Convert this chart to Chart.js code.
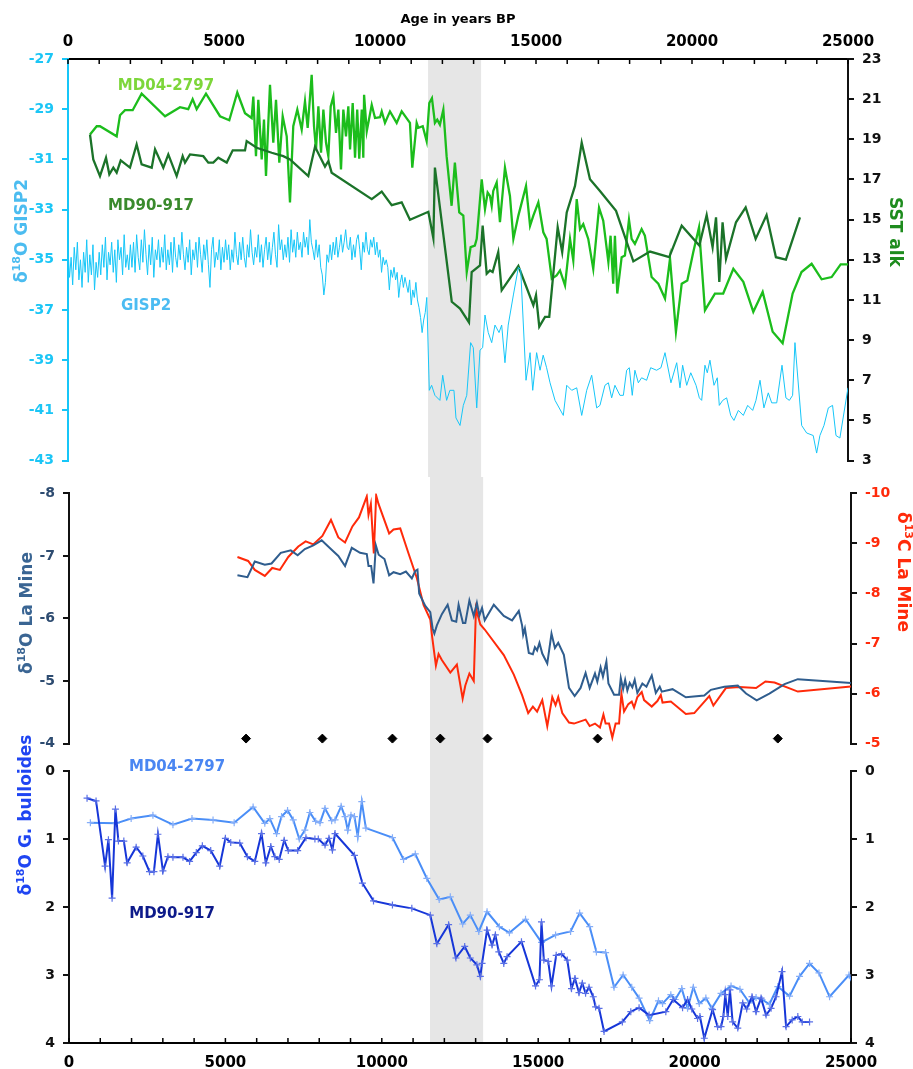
<!DOCTYPE html>
<html>
<head>
<meta charset="utf-8">
<script src="https://cdn.jsdelivr.net/npm/chart.js@4.4.0/dist/chart.umd.min.js"></script>
<style>
  html, body { margin: 0; padding: 0; background: #fff; }
  #wrap { position: relative; width: 913px; height: 1069px; }
  canvas { position: absolute; left: 0; }
  #c1 { top: 0; z-index: 1; }
  #c3 { top: 700px; z-index: 2; }
  #c2 { top: 477px; z-index: 3; }
</style>
</head>
<body>
<div id="wrap">
  <canvas id="c1" width="913" height="477"></canvas>
  <canvas id="c2" width="913" height="283"></canvas>
  <canvas id="c3" width="913" height="369"></canvas>
</div>
<script>
// ---- axis ticks ----
const ageTicks = [0, 5000, 10000, 15000, 20000, 25000];
const ageMinor = [0, 1000, 2000, 3000, 4000, 5000, 6000, 7000, 8000, 9000, 10000, 11000, 12000,
  13000, 14000, 15000, 16000, 17000, 18000, 19000, 20000, 21000, 22000, 23000, 24000, 25000];
const gisp2Ticks = [-43, -41, -39, -37, -35, -33, -31, -29, -27];
const sstTicks = [3, 5, 7, 9, 11, 13, 15, 17, 19, 21, 23];
const o18MineTicks = [-8, -7, -6, -5, -4];
const c13MineTicks = [-10, -9, -8, -7, -6, -5];
const bullTicks = [0, 1, 2, 3, 4];
const shadedAge = [11540, 13240];

// ---- GISP2 d18O ----
const gisp2Age = [0, 50, 100, 150, 200, 250, 300, 350, 400, 450, 500, 550, 600, 650, 700, 750, 800,
  850, 900, 950, 1000, 1050, 1100, 1150, 1200, 1250, 1300, 1350, 1400, 1450, 1500, 1550, 1600, 1650,
  1700, 1750, 1800, 1850, 1900, 1950, 2000, 2050, 2100, 2150, 2200, 2250, 2300, 2350, 2400, 2450,
  2500, 2550, 2600, 2650, 2700, 2750, 2800, 2850, 2900, 2950, 3000, 3050, 3100, 3150, 3200, 3250,
  3300, 3350, 3400, 3450, 3500, 3550, 3600, 3650, 3700, 3750, 3800, 3850, 3900, 3950, 4000, 4050,
  4100, 4150, 4200, 4250, 4300, 4350, 4400, 4450, 4500, 4550, 4600, 4650, 4700, 4750, 4800, 4850,
  4900, 4950, 5000, 5050, 5100, 5150, 5200, 5250, 5300, 5350, 5400, 5450, 5500, 5550, 5600, 5650,
  5700, 5750, 5800, 5850, 5900, 5950, 6000, 6050, 6100, 6150, 6200, 6250, 6300, 6350, 6400, 6450,
  6500, 6550, 6600, 6650, 6700, 6750, 6800, 6850, 6900, 6950, 7000, 7050, 7100, 7150, 7200, 7250,
  7300, 7350, 7400, 7450, 7500, 7550, 7600, 7650, 7700, 7750, 7800, 7850, 7900, 7950, 8000, 8050,
  8100, 8150, 8200, 8250, 8300, 8350, 8400, 8450, 8500, 8550, 8600, 8650, 8700, 8750, 8800, 8850,
  8900, 8950, 9000, 9050, 9100, 9150, 9200, 9250, 9300, 9350, 9400, 9450, 9500, 9550, 9600, 9650,
  9700, 9750, 9800, 9850, 9900, 9950, 10000, 10050, 10100, 10150, 10200, 10250, 10300, 10350, 10400,
  10450, 10500, 10550, 10600, 10650, 10700, 10750, 10800, 10850, 10900, 10950, 11000, 11050, 11100,
  11150, 11200, 11250, 11300, 11350, 11400, 11450, 11500,
  11580, 11655, 11760, 11920, 12010, 12135,
  12240, 12370, 12435, 12565, 12670, 12780, 12905, 12990, 13100, 13205, 13290, 13365, 13470, 13580,
  13685, 13815, 13900, 14005, 14110, 14275, 14435, 14510, 14680, 14810, 14895, 15020, 15130, 15230,
  15340, 15450, 15610, 15875, 15985, 16145, 16305, 16465, 16625, 16785, 16945, 17050, 17210, 17320,
  17425, 17530, 17690, 17800, 17905, 17990, 18085, 18170, 18280, 18385, 18545, 18675, 18865, 19005,
  19135, 19325, 19510, 19615, 19700, 19830, 19960, 20130, 20235, 20310, 20415, 20490, 20575, 20705,
  20810, 20875, 20985, 21110, 21240, 21345, 21485, 21645, 21785, 21945, 22050, 22180, 22305, 22445,
  22555, 22715, 22885, 23010, 23120, 23225, 23300, 23515, 23675, 23885, 23995, 24100, 24230, 24370,
  24505, 24615, 24740, 25000];
const gisp2D18O = [
  -34.6, -35.7, -34.9, -36.0, -34.5, -35.4, -34.3, -35.8, -35.0, -36.1, -34.7, -35.5, -34.2, -35.9,
  -34.8, -35.6, -34.4, -36.2, -35.1, -35.7, -34.7,
  -35.6, -34.4, -35.3, -34.1, -35.8, -34.7, -35.2, -34.3, -35.5, -34.6, -35.9, -34.2, -35.0, -34.5,
  -35.6, -34.0, -35.3, -34.8, -35.4, -34.4,
  -35.3, -34.3, -35.5, -34.0, -34.9, -35.4, -34.2, -35.1, -33.8, -34.8, -35.6, -34.4, -35.2, -34.1,
  -35.7, -34.6, -35.0, -34.2, -35.3, -34.5,
  -35.1, -34.0, -35.4, -34.6, -35.2, -34.3, -35.5, -34.1, -34.9, -35.3, -34.4, -35.0, -33.9, -34.8,
  -35.4, -34.5, -35.1, -34.2, -35.6, -34.6,
  -35.0, -34.3, -35.3, -34.1, -34.8, -35.5, -34.4, -35.0, -34.2, -35.2, -36.1, -34.6, -34.1, -35.3,
  -34.7, -35.0, -34.2, -35.4, -34.5, -35.1,
  -34.2, -35.0, -34.4, -35.4, -34.6, -35.1, -33.9, -34.8, -35.2, -34.3, -35.0, -34.1, -34.9, -35.3,
  -34.4, -34.9, -33.8, -34.7, -35.2, -34.5,
  -34.9, -34.0, -35.1, -34.4, -35.3, -34.6, -34.1, -35.0, -34.3, -35.2, -34.5, -33.9, -34.8, -35.3,
  -33.6, -34.6, -34.2, -35.0, -34.4, -34.9,
  -34.1, -35.1, -33.8, -34.7, -34.2, -34.9, -33.9, -34.6, -34.3, -34.9, -33.9, -34.5, -34.1, -34.8,
  -33.4, -34.3, -34.6, -35.0, -34.2, -34.9,
  -34.4, -35.3, -35.6, -36.4, -35.9, -34.8, -35.1, -34.4, -35.0, -34.3, -34.8, -34.1, -34.9, -34.5,
  -34.0, -34.7, -34.3, -33.8, -34.5, -34.6,
  -34.1, -35.0, -34.4, -34.9, -34.2, -34.0, -34.6, -35.4, -34.3, -34.7, -33.9, -34.6, -34.8, -34.2,
  -34.5, -34.1, -34.8, -34.3, -34.9, -34.6,
  -35.5, -34.9, -35.2, -35.0, -35.3, -36.2, -35.4, -35.7, -35.3, -35.8, -35.5, -36.5, -35.9, -35.6,
  -36.1, -35.7, -36.0, -36.3, -35.8, -36.8,
  -36.2, -36.5, -35.9, -36.6, -36.9, -37.3, -37.9, -37.4, -37.1, -36.5,
  -40.2, -40.0, -40.4, -40.6, -39.6, -40.6,
  -40.2, -40.2, -41.3, -41.6, -40.8, -40.4, -38.3, -38.5, -40.9, -38.6, -38.5,
  -37.2, -37.9, -38.3, -37.6, -37.9, -37.6, -39.1, -37.6, -36.4, -35.3, -35.4, -39.8, -38.7, -40.2,
  -38.7, -39.4, -38.8, -39.3, -39.9, -40.6, -41.2, -40.0, -40.2, -40.1, -41.2, -40.2, -39.6, -40.9,
  -40.8, -40.0, -39.9, -40.5, -40.0, -40.4, -40.4, -39.4, -39.3, -40.4, -39.4, -39.9, -39.7, -39.8,
  -39.3, -39.4, -39.3, -38.7, -39.9, -39.1, -40.1, -39.2, -40.0, -39.5, -40.0, -40.5, -40.6, -39.2,
  -39.5, -39.0, -40.0, -39.7, -40.8, -40.6, -40.5, -41.2, -41.4, -41.0, -41.2, -40.8, -41.0, -40.6,
  -39.8, -40.9, -40.3, -40.7, -40.7, -39.2, -40.5, -40.6, -40.4, -38.3, -41.6, -41.9, -42.0, -42.7,
  -42.0, -41.6, -40.9, -40.8, -42.0, -42.1, -40.1];

// ---- SST alkenones MD04-2797 ----
const md04SstAge = [705, 920, 1025, 1560, 1667, 1827, 2073, 2360, 3110, 3590, 3855, 3995, 4124, 4423,
  4872, 5170, 5426, 5673, 5886, 5940, 6025, 6100, 6208, 6282, 6346, 6474, 6580, 6667, 6773, 6881,
  7010, 7115, 7220, 7350, 7490, 7596, 7682, 7810, 7885, 7950, 8025, 8110, 8185, 8270, 8345, 8420,
  8505, 8590, 8665, 8750, 8825, 8910, 8985, 9040, 9125, 9200, 9270, 9335, 9415, 9465, 9490, 9575,
  9735, 9840, 10000, 10055, 10160, 10320, 10535, 10695, 10960, 11035, 11175, 11230, 11370, 11495,
  11580, 11665, 11760, 11835, 11920, 12030, 12135, 12295, 12400, 12540, 12670, 12780, 12905, 13040,
  13100, 13260, 13365, 13450, 13525, 13580, 13630, 13740, 13845, 14005, 14165, 14275, 14435, 14680,
  14810, 14915, 15075, 15235, 15340, 15395, 15505, 15660, 15770, 15930, 16090, 16195, 16305, 16410,
  16515, 16675, 16835, 17020, 17155, 17320, 17390, 17475, 17530, 17605, 17745, 17850, 17980, 18065,
  18170, 18385, 18490, 18705, 18920, 19135, 19295, 19485, 19670, 19850, 20040, 20225, 20280, 20415,
  20735, 21000, 21325, 21645, 21965, 22265, 22585, 22905, 23225, 23510, 23835, 24155, 24475, 24765, 25000];
const md04Sst = [19.24, 19.65, 19.65, 19.15, 20.2, 20.45, 20.45, 21.27, 20.15, 20.6, 20.5, 21.0, 20.5,
  21.27, 20.15, 19.95, 21.33, 20.3, 20.06, 21.13, 18.16, 20.97, 18.0, 19.98, 17.17, 21.71, 18.83,
  20.97, 17.84, 20.15, 19.15, 15.86, 19.65, 20.48, 19.49, 20.89, 19.57, 22.21, 19.65, 18.5, 20.64,
  18.33, 20.48, 18.83, 18.16, 20.64, 21.13, 19.32, 20.48, 17.5, 20.48, 19.15, 20.64, 18.5, 20.81,
  18.08, 20.48, 18.03, 20.48, 18.08, 21.22, 19.4, 20.72, 20.06, 20.1, 20.39, 19.82, 20.39, 19.82,
  20.39, 19.82, 17.59, 19.82, 19.57, 19.65, 18.91, 20.81, 21.05, 19.82, 19.98, 19.73, 20.48, 18.16,
  15.69, 17.84, 15.36, 15.2, 12.39, 13.63, 13.71, 14.04, 17.01, 15.52, 16.35, 16.18, 15.69, 16.43,
  16.85, 14.87, 17.59, 16.18, 14.04, 15.2, 16.68, 14.7, 15.2, 15.86, 14.37, 14.04, 13.38, 12.06,
  12.22, 12.47, 11.73, 14.04, 12.97, 16.02, 14.53, 14.78, 14.04, 12.55, 15.6, 14.95, 12.89, 14.2,
  11.81, 14.2, 11.32, 13.13, 13.21, 15.0, 14.04, 13.79, 14.53, 14.2, 12.14, 11.81, 11.07, 13.05,
  9.42, 11.81, 11.97, 13.38, 14.62, 13.38, 10.49, 11.32, 11.32, 12.55, 11.9, 10.41, 11.4, 9.42,
  8.84, 11.32, 12.39, 12.8, 12.03, 12.14, 12.77, 12.77];

// ---- SST alkenones MD90-917 ----
const md90SstAge = [705, 810, 1025, 1218, 1325, 1453, 1560, 1690, 1987, 2200, 2360, 2683, 2790, 3055,
  3215, 3483, 3675, 3750, 3910, 4337, 4497, 4657, 4817, 5087, 5280, 5673, 5727, 6048, 6529, 6900,
  7115, 7702, 7917, 8237, 8345, 8450, 9735, 10055, 10375, 10695, 10960, 11550, 11710, 11760, 12300,
  12565, 12852, 12938, 13205, 13290, 13420, 13525, 13610, 13790, 13900, 14435, 14915, 15000, 15105,
  15290, 15425, 15695, 15840, 15985, 16250, 16465, 16730, 17050, 17565, 18120, 18655, 19270, 19670,
  20235, 20470, 20660, 20770, 20875, 20980, 21090, 21410, 21720, 22040, 22390, 22690, 23010, 23460];
const md90Sst = [19.24, 18.0, 17.17, 18.08, 17.26, 17.59, 17.34, 17.95, 17.59, 18.74, 17.75, 17.59,
  18.5, 17.59, 18.25, 17.17, 18.16, 17.84, 18.25, 18.16, 17.84, 17.84, 18.08, 17.84, 18.45, 18.45,
  18.91, 18.58, 18.33, 18.16, 18.0, 17.17, 18.63, 17.64, 17.92, 17.34, 16.02, 16.4, 15.72, 15.86,
  14.99, 15.39, 14.07, 17.59, 10.91, 10.57, 9.88, 12.39, 12.72, 14.7, 12.31, 12.47, 12.39, 13.38,
  11.48, 12.69, 10.74, 11.24, 9.67, 10.16, 10.16, 14.62, 13.38, 15.36, 16.68, 18.83, 17.01, 16.43,
  15.44, 12.92, 13.41, 13.13, 14.7, 13.71, 15.23, 13.63, 15.11, 11.9, 14.87, 13.05, 14.87, 15.61,
  14.04, 15.23, 13.13, 13.01, 15.11];

// ---- La Mine speleothem d18O ----
const laMineO18Age = [5385, 5705, 5940, 6260, 6475, 6770, 7090, 7310, 7540, 7810, 8077, 8397, 8610,
  8825, 9040, 9305, 9520, 9575, 9660, 9735, 9810, 9900, 10085, 10235, 10375, 10590, 10770, 10960,
  11070, 11140, 11195, 11390, 11550, 11625, 11680, 11760, 11920, 12105, 12240, 12380, 12455, 12540,
  12595, 12670, 12800, 12940, 13040, 13120, 13205, 13290, 13580, 13900, 14165, 14380, 14485, 14520,
  14575, 14700, 14830, 14895, 14965, 15040, 15130, 15290, 15425, 15535, 15640, 15820, 15985, 16165,
  16355, 16515, 16645, 16815, 16890, 16995, 17070, 17180, 17245, 17425, 17585, 17640, 17715, 17780,
  17850, 17925, 18010, 18085, 18170, 18330, 18460, 18630, 18760, 18885, 18950, 19295, 19720, 20310,
  20520, 20950, 21380, 21645, 21985, 22390, 22875, 23300, 24100, 25000];
const laMineO18 = [-6.69, -6.66, -6.91, -6.86, -6.88, -7.05, -7.09, -7.01, -7.11, -7.17, -7.25, -7.1,
  -7.0, -6.84, -7.13, -7.05, -7.03, -6.84, -6.84, -6.56, -7.17, -7.02, -6.95, -6.69, -6.74, -6.71,
  -6.75, -6.64, -6.76, -6.78, -6.4, -6.2, -6.1, -5.84, -5.76, -5.89, -6.07, -6.22, -5.97, -5.95,
  -6.22, -6.04, -5.93, -5.93, -6.29, -6.04, -6.25, -6.05, -6.17, -5.97, -6.22, -6.04, -5.97, -6.12,
  -5.89, -5.74, -5.84, -5.45, -5.43, -5.54, -5.49, -5.61, -5.44, -5.28, -5.76, -5.53, -5.61, -5.42,
  -4.89, -4.76, -4.89, -5.13, -4.89, -5.12, -4.99, -5.22, -5.07, -5.31, -4.96, -4.78, -4.78, -5.05,
  -4.87, -5.02, -4.85, -4.97, -4.9, -5.02, -4.81, -4.96, -4.91, -5.09, -4.81, -4.91, -4.83, -4.87,
  -4.74, -4.77, -4.86, -4.91, -4.93, -4.8, -4.69, -4.8, -4.95, -5.03, -5.0, -4.97];

// ---- La Mine speleothem d13C ----
const laMineC13Age = [5385, 5727, 5940, 6260, 6497, 6740, 7010, 7330, 7565, 7810, 8100, 8375, 8610,
  8825, 9060, 9270, 9520, 9575, 9650, 9745, 9820, 9895, 10235, 10375, 10590, 10855, 11120, 11335,
  11550, 11605, 11730, 11815, 11920, 12190, 12400, 12585, 12670, 12800, 12940, 13010, 13150, 13290,
  13900, 14220, 14485, 14680, 14830, 14965, 15130, 15290, 15450, 15555, 15640, 15770, 15985, 16145,
  16515, 16645, 16815, 16975, 17085, 17155, 17265, 17370, 17475, 17585, 17660, 17745, 17880, 17990,
  18065, 18170, 18310, 18385, 18630, 18810, 18920, 18975, 19240, 19720, 19990, 20470, 20600, 21000,
  21430, 21965, 22265, 22555, 23300, 25000];
const laMineC13 = [-8.73, -8.65, -8.47, -8.35, -8.51, -8.47, -8.73, -8.94, -9.04, -8.98, -9.15, -9.47,
  -9.12, -9.02, -9.34, -9.52, -9.94, -9.57, -9.79, -8.8, -9.96, -9.79, -9.2, -9.28, -9.3, -8.8,
  -8.31, -7.77, -7.48, -7.16, -6.56, -6.79, -6.67, -6.42, -6.58, -5.9, -6.16, -6.4, -6.25, -7.7,
  -7.38, -7.28, -6.77, -6.38, -5.97, -5.61, -5.74, -5.64, -5.87, -5.35, -5.93, -5.77, -5.93, -5.61,
  -5.42, -5.4, -5.48, -5.35, -5.4, -5.32, -5.58, -5.4, -5.4, -5.12, -5.4, -5.4, -6.0, -5.64, -5.79,
  -5.84, -5.72, -5.93, -6.03, -5.87, -5.74, -5.85, -5.97, -5.82, -5.84, -5.59, -5.61, -5.95, -5.76,
  -6.11, -6.13, -6.11, -6.24, -6.22, -6.04, -6.14];

// ---- U/Th dates (black diamonds) ----
const datesAge = [5660, 8100, 10340, 11870, 13380, 16900, 22660];
const datesVal = [-4.08, -4.08, -4.08, -4.08, -4.08, -4.08, -4.08];

// ---- G. bulloides d18O MD04-2797 ----
const md04BullAge = [683, 1507, 1987, 2683, 3323, 3932, 4605, 5280, 5886, 6260, 6420, 6635, 6795,
  6987, 7170, 7362, 7540, 7702, 7885, 8025, 8185, 8397, 8505, 8700, 8825, 8910, 9015, 9125, 9230,
  9360, 9490, 10340, 10695, 11070, 11440, 11835, 12190, 12585, 12830, 13100, 13365, 13760, 14080,
  14595, 15105, 15555, 16035, 16325, 16645, 16860, 17155, 17425, 17715, 17990, 18225, 18565, 18845,
  18975, 19240, 19380, 19590, 19775, 19960, 20150, 20360, 20550, 20845, 21165, 21450, 21750, 21965,
  22155, 22390, 22660, 23035, 23355, 23675, 23975, 24315, 24935, 25120];
const md04Bull = [0.76, 0.77, 0.7, 0.65, 0.79, 0.7, 0.72, 0.76, 0.53, 0.77, 0.7, 0.92, 0.67, 0.58, 0.72,
  1.0, 0.87, 0.61, 0.74, 0.76, 0.55, 0.73, 0.72, 0.52, 0.67, 0.87, 0.65, 0.67, 0.96, 0.45, 0.84, 0.98,
  1.3, 1.22, 1.58, 1.89, 1.85, 2.25, 2.12, 2.36, 2.07, 2.29, 2.38, 2.18, 2.52, 2.41, 2.36, 2.09, 2.29,
  2.66, 2.67, 3.18, 3.0, 3.18, 3.34, 3.67, 3.38, 3.42, 3.29, 3.36, 3.2, 3.49, 3.18, 3.42, 3.34, 3.49,
  3.27, 3.16, 3.21, 3.41, 3.33, 3.36, 3.43, 3.17, 3.31, 3.02, 2.83, 2.97, 3.32, 3.0, 3.18];

// ---- G. bulloides d18O MD90-917 ----
const md90BullAge = [577, 865, 1154, 1260, 1378, 1484, 1580, 1753, 1859, 2147, 2360, 2574, 2715, 2843,
  3003, 3163, 3323, 3644, 3855, 4070, 4263, 4530, 4817, 5000, 5170, 5458, 5705, 5940, 6154, 6292,
  6452, 6580, 6720, 6880, 7010, 7310, 7575, 7862, 7970, 8185, 8310, 8420, 8505, 9125, 9380, 9735,
  10340, 10960, 11550, 11760, 12135, 12370, 12650, 12830, 13040, 13150, 13205, 13365, 13525, 13630,
  13740, 13900, 14005, 14465, 14915, 15040, 15105, 15180, 15320, 15425, 15575, 15745, 15930, 16065,
  16175, 16305, 16410, 16515, 16625, 16760, 16835, 16945, 17105, 17690, 17960, 18225, 18545, 19080,
  19315, 19615, 19775, 19910, 20095, 20170, 20310, 20575, 20735, 20845, 20920, 20980, 21060, 21130,
  21215, 21380, 21540, 21665, 21835, 21965, 22125, 22285, 22445, 22605, 22795, 22925, 23120, 23300,
  23440, 23675];
const md90Bull = [0.4, 0.44, 1.4, 1.01, 1.87, 0.56, 1.03, 1.03, 1.35, 1.12, 1.25, 1.48, 1.48, 0.93, 1.47,
  1.26, 1.27, 1.27, 1.33, 1.2, 1.1, 1.17, 1.4, 0.99, 1.05, 1.06, 1.26, 1.33, 0.92, 1.35, 1.11, 1.26,
  1.3, 1.02, 1.17, 1.17, 0.98, 1.0, 1.0, 1.09, 0.99, 1.16, 0.92, 1.24, 1.65, 1.91, 1.97, 2.02, 2.12,
  2.54, 2.26, 2.75, 2.58, 2.75, 2.85, 3.02, 2.83, 2.34, 2.56, 2.41, 2.66, 2.83, 2.73, 2.51, 3.16,
  3.07, 2.22, 2.78, 2.8, 3.16, 2.71, 2.69, 2.78, 3.2, 3.05, 3.26, 3.12, 3.27, 3.18, 3.32, 3.47, 3.49,
  3.83, 3.69, 3.54, 3.48, 3.59, 3.54, 3.36, 3.48, 3.36, 3.5, 3.64, 3.61, 3.93, 3.51, 3.76, 3.76, 3.61,
  3.29, 3.61, 3.22, 3.69, 3.78, 3.41, 3.5, 3.32, 3.54, 3.34, 3.59, 3.49, 3.32, 2.95, 3.76, 3.66, 3.61,
  3.69, 3.69];

const FONT = "'DejaVu Sans', Verdana, sans-serif";
Chart.defaults.font.family = FONT;
Chart.defaults.font.weight = 'bold';
Chart.defaults.font.size = 14;
Chart.defaults.color = '#000';

const pts = (xs, ys) => xs.map((x, i) => ({ x: x, y: ys[i] }));

// text with a superscript part, rotated for axis titles
function drawRich(ctx, t) {
  const size = t.size || 17;
  const main = 'bold ' + size + 'px ' + FONT;
  const sup = 'bold ' + Math.round(size * 0.62) + 'px ' + FONT;
  ctx.save();
  ctx.translate(t.x, t.y);
  ctx.rotate(t.rot * Math.PI / 180);
  ctx.fillStyle = t.color;
  ctx.textAlign = 'left';
  ctx.textBaseline = 'alphabetic';
  let total = 0;
  t.parts.forEach(p => { ctx.font = p.sup ? sup : main; total += ctx.measureText(p.text).width; });
  let cx = -total / 2;
  const base = size * 0.36;
  t.parts.forEach(p => {
    ctx.font = p.sup ? sup : main;
    ctx.fillText(p.text, cx, p.sup ? base - size * 0.40 : base);
    cx += ctx.measureText(p.text).width;
  });
  ctx.restore();
}

// shaded band, inward x ticks, series labels and axis titles
const decor = {
  id: 'decor',
  beforeDatasetsDraw(chart, args, o) {
    const ctx = chart.ctx, a = chart.chartArea, x = chart.scales.x;
    const x0 = x.getPixelForValue(shadedAge[0]), x1 = x.getPixelForValue(shadedAge[1]);
    const y0 = o.bandTop === 'area' ? a.top + 1 : 0;
    const y1 = o.bandBottom === 'area' ? a.bottom - 1 : chart.height;
    ctx.save();
    ctx.fillStyle = '#e6e6e6';
    ctx.fillRect(x0, y0, x1 - x0, y1 - y0);
    ctx.restore();
  },
  afterDraw(chart, args, o) {
    const ctx = chart.ctx, a = chart.chartArea, x = chart.scales.x;
    ctx.save();
    if (o.minor) {
      ctx.strokeStyle = '#000';
      ctx.lineWidth = 1.5;
      ageMinor.forEach(v => {
        const px = x.getPixelForValue(v);
        ctx.beginPath();
        if (o.minor === 'top') { ctx.moveTo(px, a.top); ctx.lineTo(px, a.top + 5); }
        else { ctx.moveTo(px, a.bottom); ctx.lineTo(px, a.bottom - 5); }
        ctx.stroke();
      });
    }
    (o.labels || []).forEach(l => {
      const y = chart.scales[l.axis];
      ctx.font = 'bold 15px ' + FONT;
      ctx.fillStyle = l.color;
      ctx.textAlign = 'center';
      ctx.textBaseline = 'middle';
      ctx.fillText(l.text, x.getPixelForValue(l.x), y.getPixelForValue(l.y));
    });
    ctx.restore();
    (o.titles || []).forEach(t => drawRich(chart.ctx, t));
  }
};

function xAxis(pos, height, show) {
  if (!show) return { type: 'linear', min: 0, max: 25000, display: false };
  return {
    type: 'linear', position: pos, min: 0, max: 25000,
    afterBuildTicks: a => { a.ticks = ageTicks.map(v => ({ value: v })); },
    afterFit: a => { a.height = height; },
    grid: { display: false, drawTicks: false },
    border: { display: true, color: '#000', width: 2 },
    ticks: { color: '#000', padding: pos === 'top' ? 8 : 11, font: { size: 15, weight: 'bold' },
      maxRotation: 0, callback: v => String(v) },
    title: pos === 'top'
      ? { display: true, text: 'Age in years BP', color: '#000', font: { size: 13, weight: 'bold' }, padding: { top: 12, bottom: 0 } }
      : { display: false }
  };
}

function yAxis(pos, ticks, width, labelColor, lineColor, reverse) {
  return {
    type: 'linear', position: pos, reverse: reverse,
    min: Math.min(...ticks), max: Math.max(...ticks),
    afterBuildTicks: a => { a.ticks = ticks.map(v => ({ value: v })); },
    afterFit: a => { a.width = width; },
    grid: { display: true, drawOnChartArea: false, drawTicks: true, tickLength: 6, color: lineColor, lineWidth: 2 },
    border: { display: true, color: lineColor, width: 2 },
    ticks: { color: labelColor, padding: 8, font: { size: 14, weight: 'bold' }, callback: v => String(v) }
  };
}

const base = {
  responsive: false, animation: false, devicePixelRatio: 1, events: [],
};

// ---- panel 1: GISP2 + SST ----
new Chart(document.getElementById('c1'), {
  type: 'line',
  data: {
    datasets: [
      { data: pts(gisp2Age, gisp2D18O), yAxisID: 'yL', borderColor: '#16c6f8', borderWidth: 1, pointRadius: 0 },
      { data: pts(md90SstAge, md90Sst), yAxisID: 'yR', borderColor: '#1b7329', borderWidth: 2.3, pointRadius: 0 },
      { data: pts(md04SstAge, md04Sst), yAxisID: 'yR', borderColor: '#1cbd1c', borderWidth: 2.3, pointRadius: 0 }
    ]
  },
  options: Object.assign({}, base, {
    layout: { padding: { top: 0, bottom: 14, left: 0, right: 0 } },
    scales: {
      x: xAxis('top', 59, true),
      yL: yAxis('left', gisp2Ticks, 68, '#1cc6f6', '#16c6f8', false),
      yR: yAxis('right', sstTicks, 65, '#111', '#111', false)
    },
    plugins: {
      legend: { display: false }, tooltip: { enabled: false },
      decor: {
        bandTop: 'area', bandBottom: 'canvas', minor: 'top',
        labels: [
          { text: 'MD04-2797', x: 3140, y: 21.66, axis: 'yR', color: '#7dd63a' },
          { text: 'MD90-917', x: 2660, y: 15.67, axis: 'yR', color: '#3a8a2c' },
          { text: 'GISP2', x: 2500, y: -36.86, axis: 'yL', color: '#4bbcf2' }
        ],
        titles: [
          { parts: [{ text: 'δ' }, { text: '18', sup: true }, { text: 'O GISP2' }], x: 21, y: 231, rot: -90, color: '#4bbcf0' },
          { parts: [{ text: 'SST alk' }], x: 896, y: 232, rot: 90, color: '#1e8c1e' }
        ]
      }
    }
  }),
  plugins: [decor]
});

// ---- panel 2: La Mine speleothem ----
new Chart(document.getElementById('c2'), {
  type: 'line',
  data: {
    datasets: [
      { data: pts(laMineO18Age, laMineO18), yAxisID: 'yL', borderColor: '#2f5d8e', borderWidth: 2, pointRadius: 0 },
      { data: pts(laMineC13Age, laMineC13), yAxisID: 'yR', borderColor: '#ff2a0a', borderWidth: 2, pointRadius: 0 },
      { data: pts(datesAge, datesVal), yAxisID: 'yL', showLine: false, pointStyle: 'rectRot', pointRadius: 4.5,
        pointBackgroundColor: '#000', pointBorderColor: '#000', borderColor: '#000' }
    ]
  },
  options: Object.assign({}, base, {
    layout: { padding: { top: 13.5, bottom: 10.5, left: 0, right: 0 } },
    scales: {
      x: xAxis('bottom', 0, false),
      yL: yAxis('left', o18MineTicks, 69, '#2d4b70', '#111', true),
      yR: yAxis('right', c13MineTicks, 62, '#ff2a0a', '#111', true)
    },
    plugins: {
      legend: { display: false }, tooltip: { enabled: false },
      decor: {
        bandTop: 'canvas', bandBottom: 'canvas', minor: null,
        titles: [
          { parts: [{ text: 'δ' }, { text: '18', sup: true }, { text: 'O La Mine' }], x: 26, y: 136, rot: -90, color: '#3a6593' },
          { parts: [{ text: 'δ' }, { text: '13', sup: true }, { text: 'C La Mine' }], x: 904, y: 95, rot: 90, color: '#ff2a0a' }
        ]
      }
    }
  }),
  plugins: [decor]
});

// ---- panel 3: G. bulloides ----
new Chart(document.getElementById('c3'), {
  type: 'line',
  data: {
    datasets: [
      { data: pts(md90BullAge, md90Bull), yAxisID: 'yL', borderColor: '#1636d8', borderWidth: 2,
        pointStyle: 'cross', pointRadius: 3.5, pointBorderWidth: 1.2, pointBorderColor: '#5a70e6' },
      { data: pts(md04BullAge, md04Bull), yAxisID: 'yL', borderColor: '#4a8ef7', borderWidth: 2,
        pointStyle: 'cross', pointRadius: 3.5, pointBorderWidth: 1.2, pointBorderColor: '#86aef8' }
    ]
  },
  options: Object.assign({}, base, {
    layout: { padding: { top: 71, bottom: 0, left: 0, right: 0 } },
    scales: {
      x: xAxis('bottom', 26, true),
      yL: yAxis('left', bullTicks, 69, '#111', '#111', true),
      yR: yAxis('right', bullTicks, 62, '#111', '#111', true)
    },
    plugins: {
      legend: { display: false }, tooltip: { enabled: false },
      decor: {
        bandTop: 'canvas', bandBottom: 'area', minor: 'bottom',
        labels: [
          { text: 'MD04-2797', x: 3456, y: -0.06, axis: 'yL', color: '#4a86f2' },
          { text: 'MD90-917', x: 3296, y: 2.1, axis: 'yL', color: '#0d1a8a' }
        ],
        titles: [
          { parts: [{ text: 'δ' }, { text: '18', sup: true }, { text: 'O G. bulloides' }], x: 25, y: 115, rot: -90, color: '#1f45f2' }
        ]
      }
    }
  }),
  plugins: [decor]
});
</script>
</body>
</html>
